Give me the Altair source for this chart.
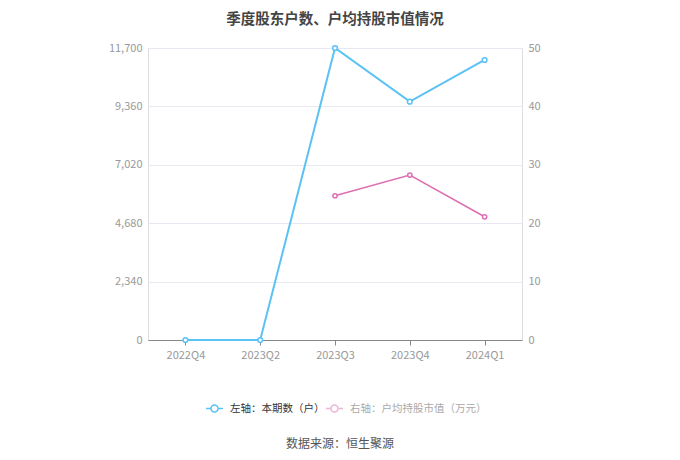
import altair as alt
import pandas as pd

quarters = ["2022Q4", "2023Q2", "2023Q3", "2023Q4", "2024Q1"]
holders = [0, 0, 11700, 9550, 11220]
value_quarters = ["2023Q3", "2023Q4", "2024Q1"]
avg_value = [24.7, 28.25, 21.1]

left_name = "左轴：本期数（户）"
right_name = "右轴：户均持股市值（万元）"
left_ticks = [0, 2340, 4680, 7020, 9360, 11700]
right_ticks = [0, 10, 20, 30, 40, 50]

BLUE = "#5BC2F5"
PINK = "#DE6FB2"

df_l = pd.DataFrame({"q": quarters, "v": holders, "s": left_name})
df_r = pd.DataFrame({"q": value_quarters, "v": avg_value, "s": right_name})
df_src = pd.DataFrame({"t": ["数据来源：恒生聚源"]})

sym = "M-1,0L-0.42,0M0.42,0L1,0M0.42,0A0.42,0.42,0,1,1,-0.42,0A0.42,0.42,0,1,1,0.42,0"

xenc = alt.X("q:N", sort=quarters, scale=alt.Scale(domain=quarters, type="point", padding=0.5),
             axis=alt.Axis(title=None, labelColor="#999", labelFontSize=11, labelPadding=4,
                           domainColor="#888", tickColor="#888", tickSize=5, grid=False,
                           labelAngle=0))

yl = alt.Y("v:Q", scale=alt.Scale(domain=[0, 11700], nice=False),
           axis=alt.Axis(title=None, values=left_ticks, format=",d", labelColor="#999", labelFontSize=11,
                         domain=False, ticks=False, gridColor="#E6E9F2", labelPadding=6))
yr = alt.Y("v:Q", scale=alt.Scale(domain=[0, 50], nice=False),
           axis=alt.Axis(title=None, orient="right", values=right_ticks, labelColor="#999", labelFontSize=11,
                         domain=False, ticks=False, grid=False, labelPadding=6))

left_line = alt.Chart(df_l).mark_line(strokeWidth=2).encode(
    x=xenc, y=yl,
    color=alt.Color("s:N", scale=alt.Scale(domain=[left_name], range=[BLUE]),
                    legend=alt.Legend(title=None, orient="none", legendX=57, legendY=351,
                                      symbolType=sym, symbolSize=290, symbolStrokeWidth=1.5,
                                      symbolFillColor="white", labelColor="#333", labelFontSize=10.5,
                                      labelOffset=6)),
)
left_pts = alt.Chart(df_l).mark_point(filled=False, fill="white", fillOpacity=1, size=22, strokeWidth=1.5,
                                      color=BLUE, opacity=1).encode(x=xenc, y=yl)

right_line = alt.Chart(df_r).mark_line(strokeWidth=1.5).encode(
    x=xenc, y=yr,
    color=alt.Color("s:N", scale=alt.Scale(domain=[right_name], range=[PINK]),
                    legend=alt.Legend(title=None, orient="none", legendX=177, legendY=351,
                                      symbolType=sym, symbolSize=290, symbolStrokeWidth=1.5,
                                      symbolFillColor="white", symbolOpacity=0.5, labelColor="#aaa",
                                      labelFontSize=10.5, labelOffset=6)),
)
right_pts = alt.Chart(df_r).mark_point(filled=False, fill="white", fillOpacity=1, size=18, strokeWidth=1.5,
                                       color=PINK, opacity=1).encode(x=xenc, y=yr)

src = alt.Chart(df_src).mark_text(fontSize=12, color="#555", font="Noto Sans CJK SC").encode(
    text="t:N", x=alt.value(192), y=alt.value(396)
)

left_layer = alt.layer(left_line, left_pts)
right_layer = alt.layer(right_line, right_pts)

chart = alt.layer(left_layer, right_layer, src).resolve_scale(y="independent", color="independent").resolve_legend(color="independent").properties(
    width=374, height=292,
    title=alt.Title("季度股东户数、户均持股市值情况", fontSize=14.5, fontWeight="bold", color="#444",
                    anchor="middle", offset=15, font="Noto Sans CJK SC"),
    autosize=alt.AutoSizeParams(type="none"),
    padding={"left": 140, "top": 40, "right": 150, "bottom": 110},
).configure_view(stroke=None).configure(font="Noto Sans CJK SC")

chart.save("out.html", embed_options={"renderer": "svg", "actions": False})
